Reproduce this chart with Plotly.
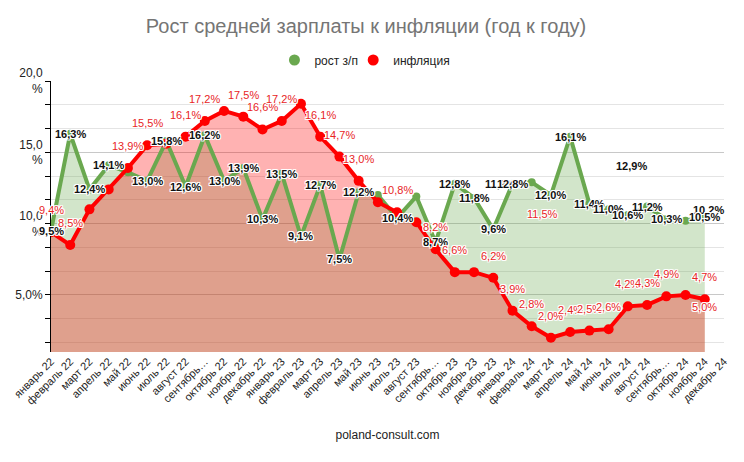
import plotly.graph_objects as go

# ---------------- data ----------------
MONTHS = [
    "январь 22", "февраль 22", "март 22", "апрель 22", "май 22", "июнь 22",
    "июль 22", "август 22", "сентябрь 22", "октябрь 22", "ноябрь 22", "декабрь 22",
    "январь 23", "февраль 23", "март 23", "апрель 23", "май 23", "июнь 23",
    "июль 23", "август 23", "сентябрь 23", "октябрь 23", "ноябрь 23", "декабрь 23",
    "январь 24", "февраль 24", "март 24", "апрель 24", "май 24", "июнь 24",
    "июль 24", "август 24", "сентябрь 24", "октябрь 24", "ноябрь 24", "декабрь 24",
]
TICK_LABELS = [
    "январь 22", "февраль 22", "март 22", "апрель 22", "май 22", "июнь 22",
    "июль 22", "август 22", "сентябрь…", "октябрь 22", "ноябрь 22", "декабрь 22",
    "январь 23", "февраль 23", "март 23", "апрель 23", "май 23", "июнь 23",
    "июль 23", "август 23", "сентябрь…", "октябрь 23", "ноябрь 23", "декабрь 23",
    "январь 24", "февраль 24", "март 24", "апрель 24", "май 24", "июнь 24",
    "июль 24", "август 24", "сентябрь…", "октябрь 24", "ноябрь 24", "декабрь 24",
]
WAGE = [9.5, 16.3, 12.4, 14.1, 13.6, 13.0, 15.8, 12.6, 16.2, 13.0, 13.9, 10.3,
        13.5, 9.1, 12.7, 7.5, 12.2, 12.0, 10.4, 11.9, 8.7, 12.8, 11.8, 9.6,
        12.8, 12.9, 12.0, 16.1, 11.4, 11.0, 10.6, 11.2, 10.3, 10.2, 10.5]
INFL = [9.4, 8.5, 11.0, 12.4, 13.9, 15.5, 15.6, 16.1, 17.2, 17.9, 17.5, 16.6,
        17.2, 18.4, 16.1, 14.7, 13.0, 11.5, 10.8, 10.1, 8.2, 6.6, 6.6, 6.2,
        3.9, 2.8, 2.0, 2.4, 2.5, 2.6, 4.2, 4.3, 4.9, 5.0, 4.7]
Y_TICKS = [5, 10, 15, 20]
Y_TICK_TEXT = ["5,0%", "10,0<br>%", "15,0<br>%", "20,0<br>%"]

# which data labels are visible (as in the original chart)
WAGE_LABELS_SHOWN = [0, 1, 2, 3, 5, 6, 7, 8, 9, 10, 11, 12, 13, 14, 15, 16, 18,
                     20, 21, 22, 23, 24, 26, 27, 28, 29, 30, 31, 32, 34]
INFL_LABELS_SHOWN = [0, 1, 4, 5, 7, 8, 10, 11, 12, 14, 15, 16, 18, 20, 21, 23,
                     24, 25, 26, 27, 28, 29, 30, 31, 32, 34]
# displaced labels: (index, xshift, yshift)
WAGE_LABELS_MOVED = [(19, 84, 13), (25, 100, 16), (33, 23, 11)]
INFL_LABELS_MOVED = [(17, 165, -12), (33, 19, -12)]

GREEN = "#6aa84f"
RED = "#ff0000"
RED_TXT = "#e8251f"
FONT = "Liberation Sans, Arial, sans-serif"
HALO = ("1px 1px 0 #fff, -1px -1px 0 #fff, 1px -1px 0 #fff, -1px 1px 0 #fff, "
        "0 1px 0 #fff, 0 -1px 0 #fff, 1px 0 0 #fff, -1px 0 0 #fff")


def fmt(v):
    return f"{v:.1f}".replace(".", ",") + "%"


n = len(WAGE)
fig = go.Figure()
fig.add_trace(go.Scatter(x=MONTHS[:n], y=WAGE, mode="none", fill="tozeroy",
                         fillcolor="rgba(106,168,79,0.3)", showlegend=False, hoverinfo="skip"))
fig.add_trace(go.Scatter(x=MONTHS[:n], y=INFL, mode="none", fill="tozeroy",
                         fillcolor="rgba(255,0,0,0.3)", showlegend=False, hoverinfo="skip"))
fig.add_trace(go.Scatter(x=MONTHS[:n], y=WAGE, mode="lines+markers", name="рост з/п",
                         line=dict(color=GREEN, width=4), marker=dict(size=8, color=GREEN),
                         showlegend=False))
fig.add_trace(go.Scatter(x=MONTHS[:n], y=INFL, mode="lines+markers", name="инфляция",
                         line=dict(color=RED, width=4), marker=dict(size=10, color=RED),
                         showlegend=False))
# legend entries (circles only)
fig.add_trace(go.Scatter(x=[None], y=[None], mode="markers", name="рост з/п",
                         marker=dict(size=11, color=GREEN), legend="legend"))
fig.add_trace(go.Scatter(x=[None], y=[None], mode="markers", name="инфляция",
                         marker=dict(size=11, color=RED), legend="legend2"))

ann = []
for i, dx, dy in WAGE_LABELS_MOVED:
    ann.append(dict(x=MONTHS[i], y=WAGE[i], text=fmt(WAGE[i]), xshift=dx, yshift=dy,
                    showarrow=False, font=dict(family=FONT, size=11, color="#111",
                                               weight="bold", shadow=HALO)))
for i in WAGE_LABELS_SHOWN:
    ann.append(dict(x=MONTHS[i], y=WAGE[i], text=fmt(WAGE[i]), showarrow=False,
                    font=dict(family=FONT, size=11, color="#111", weight="bold", shadow=HALO)))
for i in INFL_LABELS_SHOWN:
    ann.append(dict(x=MONTHS[i], y=INFL[i], text=fmt(INFL[i]), yshift=22, showarrow=False,
                    font=dict(family=FONT, size=11, color=RED_TXT, shadow=HALO)))
for i, dx, dy in INFL_LABELS_MOVED:
    ann.append(dict(x=MONTHS[i], y=INFL[i], text=fmt(INFL[i]), xshift=dx, yshift=dy,
                    showarrow=False, font=dict(family=FONT, size=11, color=RED_TXT, shadow=HALO)))

legend_style = dict(orientation="h", yanchor="middle", y=1.0775, xanchor="left",
                    font=dict(family=FONT, size=12, color="#222"), itemwidth=30,
                    bgcolor="rgba(0,0,0,0)")

fig.update_layout(
    width=744, height=462,
    margin=dict(l=40, r=20, t=81, b=110),
    paper_bgcolor="white", plot_bgcolor="white",
    font=dict(family=FONT, size=12, color="#222"),
    title=dict(text="Рост средней зарплаты к инфляции (год к году)",
               font=dict(family=FONT, size=20, color="#757575"),
               x=0.492, xanchor="center", y=0.944, yanchor="middle"),
    legend=dict(x=0.332, **legend_style),
    legend2=dict(x=0.449, **legend_style),
    annotations=ann,
    xaxis=dict(type="category", categoryorder="array", categoryarray=MONTHS,
               range=[0, 35], tickmode="array", tickvals=MONTHS, ticktext=TICK_LABELS,
               tickangle=-45, tickfont=dict(family=FONT, size=11, color="#222"),
               showgrid=False, showline=False, zeroline=False, ticks="",
               title=dict(text="poland-consult.com", font=dict(family=FONT, size=12, color="#222"),
                          standoff=24)),
    yaxis=dict(range=[1, 20], tickmode="array", tickvals=Y_TICKS, ticktext=Y_TICK_TEXT,
               tickfont=dict(family=FONT, size=12, color="#222"),
               showline=True, linecolor="#000", linewidth=1,
               ticks="outside", ticklen=5, tickcolor="#000",
               gridcolor="#c8c8c8", zeroline=False,
               minor=dict(tickmode="linear", tick0=0, dtick=5 / 3, showgrid=True,
                          gridcolor="#e4e4e4", ticks="outside", ticklen=5, tickcolor="#000")),
)

fig.write_html("out.html")
